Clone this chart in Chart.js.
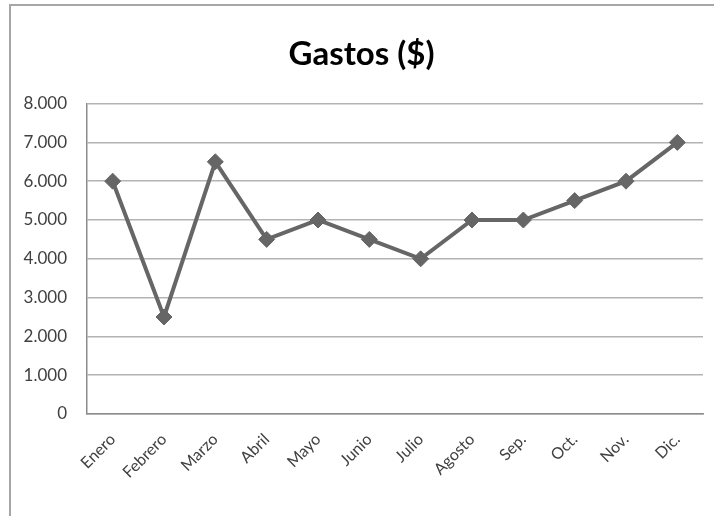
<!DOCTYPE html>
<html>
<head>
<meta charset="utf-8">
<script src="https://cdn.jsdelivr.net/npm/chart.js@4"></script>
<style>
  html, body { margin: 0; padding: 0; background: #fff; }
  #wrap { position: relative; width: 714px; height: 516px; }
  #frame {
    position: absolute; left: 9px; top: 4px; right: 0; bottom: 0;
    border-left: 2px solid #a6a6a6; border-top: 2px solid #a6a6a6;
  }
  canvas { position: absolute; left: 0; top: 0; }
</style>
</head>
<body>
<div id="wrap">
  <div id="frame"></div>
  <canvas id="lineChart" width="714" height="516"></canvas>
</div>
<script>
const months = ["Enero", "Febrero", "Marzo", "Abril", "Mayo", "Junio",
  "Julio", "Agosto", "Sep.", "Oct.", "Nov.", "Dic."];
const gastos = [6000, 2500, 6500, 4500, 5000, 4500, 4000, 5000, 5000, 5500, 6000, 7000];
const yTicks = [0, 1000, 2000, 3000, 4000, 5000, 6000, 7000, 8000];

function fmt(v) {
  return String(v).replace(/\B(?=(\d{3})+(?!\d))/g, ".");
}

const font = "Lato, 'Open Sans', sans-serif";

const ctx = document.getElementById("lineChart").getContext("2d");
new Chart(ctx, {
  type: "line",
  data: {
    labels: months,
    datasets: [{
      label: "Gastos ($)",
      data: gastos,
      borderColor: "#666666",
      backgroundColor: "#666666",
      borderWidth: 4,
      tension: 0,
      pointStyle: "rectRot",
      pointRadius: 8,
      pointBorderWidth: 1,
      pointBackgroundColor: "#666666",
      pointBorderColor: "#666666",
    }],
  },
  options: {
    responsive: false,
    animation: false,
    layout: { padding: { left: 20, right: 11, top: 0, bottom: 0 } },
    plugins: {
      legend: { display: false },
      tooltip: { enabled: false },
      title: {
        display: true,
        text: "Gastos ($)",
        color: "#000",
        font: { family: font, size: 33, weight: "bold" },
        padding: { top: 35, bottom: 29 },
      },
    },
    scales: {
      x: {
        offset: true,
        grid: { display: false, drawTicks: false },
        border: { color: "#8c8c8c", width: 1.5 },
        ticks: {
          color: "#404040",
          font: { family: font, size: 16 },
          minRotation: 45,
          maxRotation: 45,
          padding: 16,
        },
        afterFit: (scale) => { scale.height = 102; },
      },
      y: {
        min: 0,
        max: 8000,
        afterBuildTicks: (scale) => { scale.ticks = yTicks.map((v) => ({ value: v })); },
        grid: { color: "#b3b3b3", lineWidth: 1.5, drawTicks: false },
        border: { color: "#8c8c8c", width: 1.5 },
        ticks: {
          color: "#404040",
          font: { family: font, size: 17 },
          padding: 20,
          callback: (v) => fmt(v),
        },
        afterFit: (scale) => { scale.width = 67; },
      },
    },
  },
});
</script>
</body>
</html>
